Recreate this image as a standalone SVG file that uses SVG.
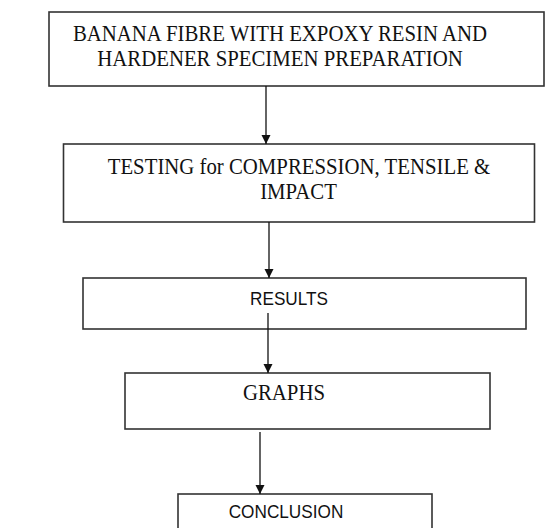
<svg xmlns="http://www.w3.org/2000/svg" width="547" height="528" viewBox="0 0 547 528">
  <defs>
    <style>
      .box { fill: #ffffff; stroke: #333333; stroke-width: 1.6; }
      .serif { font-family: "Liberation Serif", "Times New Roman", serif; font-size: 20.8px; fill: #111111; text-anchor: middle; }
      .sans { font-family: "Liberation Sans", Arial, sans-serif; font-size: 17.2px; fill: #111111; text-anchor: middle; }
      .link { stroke: #111111; stroke-width: 1.3; fill: none; marker-end: url(#arrow); }
    </style>
    <marker id="arrow" viewBox="0 0 10 10" refX="10" refY="5" markerUnits="userSpaceOnUse" markerWidth="9" markerHeight="10" orient="auto">
      <path d="M0,0 L10,5 L0,10 Z" fill="#111111"/>
    </marker>
  </defs>
  <rect width="547" height="528" fill="#ffffff"/>

  <!-- labels are slightly stretched vertically to match the tall, narrow print face -->
  <g id="preparation">
    <rect class="box" x="49" y="12" width="495" height="74"/>
    <text class="serif" transform="translate(280 41) scale(1 1.13)">BANANA FIBRE WITH EXPOXY RESIN AND</text>
    <text class="serif" transform="translate(280 65.5) scale(1 1.13)">HARDENER SPECIMEN PREPARATION</text>
  </g>

  <g id="testing">
    <rect class="box" x="63.5" y="144" width="471" height="78"/>
    <text class="serif" transform="translate(299 174) scale(1 1.15)">TESTING for COMPRESSION, TENSILE &amp;</text>
    <text class="serif" transform="translate(298.5 199) scale(1 1.15)">IMPACT</text>
  </g>

  <g id="results">
    <rect class="box" x="83" y="278" width="443" height="51"/>
    <text class="sans" transform="translate(289 304.5) scale(1 1.12)">RESULTS</text>
  </g>

  <g id="graphs">
    <rect class="box" x="125" y="373" width="365" height="56"/>
    <text class="serif" font-size="20.3" transform="translate(284 400) scale(1 1.07)">GRAPHS</text>
  </g>

  <g id="conclusion">
    <rect class="box" x="178" y="494" width="254" height="40"/>
    <text class="sans" transform="translate(286 517.5) scale(1 1.09)">CONCLUSION</text>
  </g>

  <g id="connectors">
    <line class="link" x1="266" y1="86" x2="266" y2="144"/>
    <line class="link" x1="269" y1="222" x2="269" y2="278"/>
    <line class="link" x1="268" y1="313" x2="268" y2="373"/>
    <line class="link" x1="260" y1="432" x2="260" y2="494"/>
  </g>
</svg>
